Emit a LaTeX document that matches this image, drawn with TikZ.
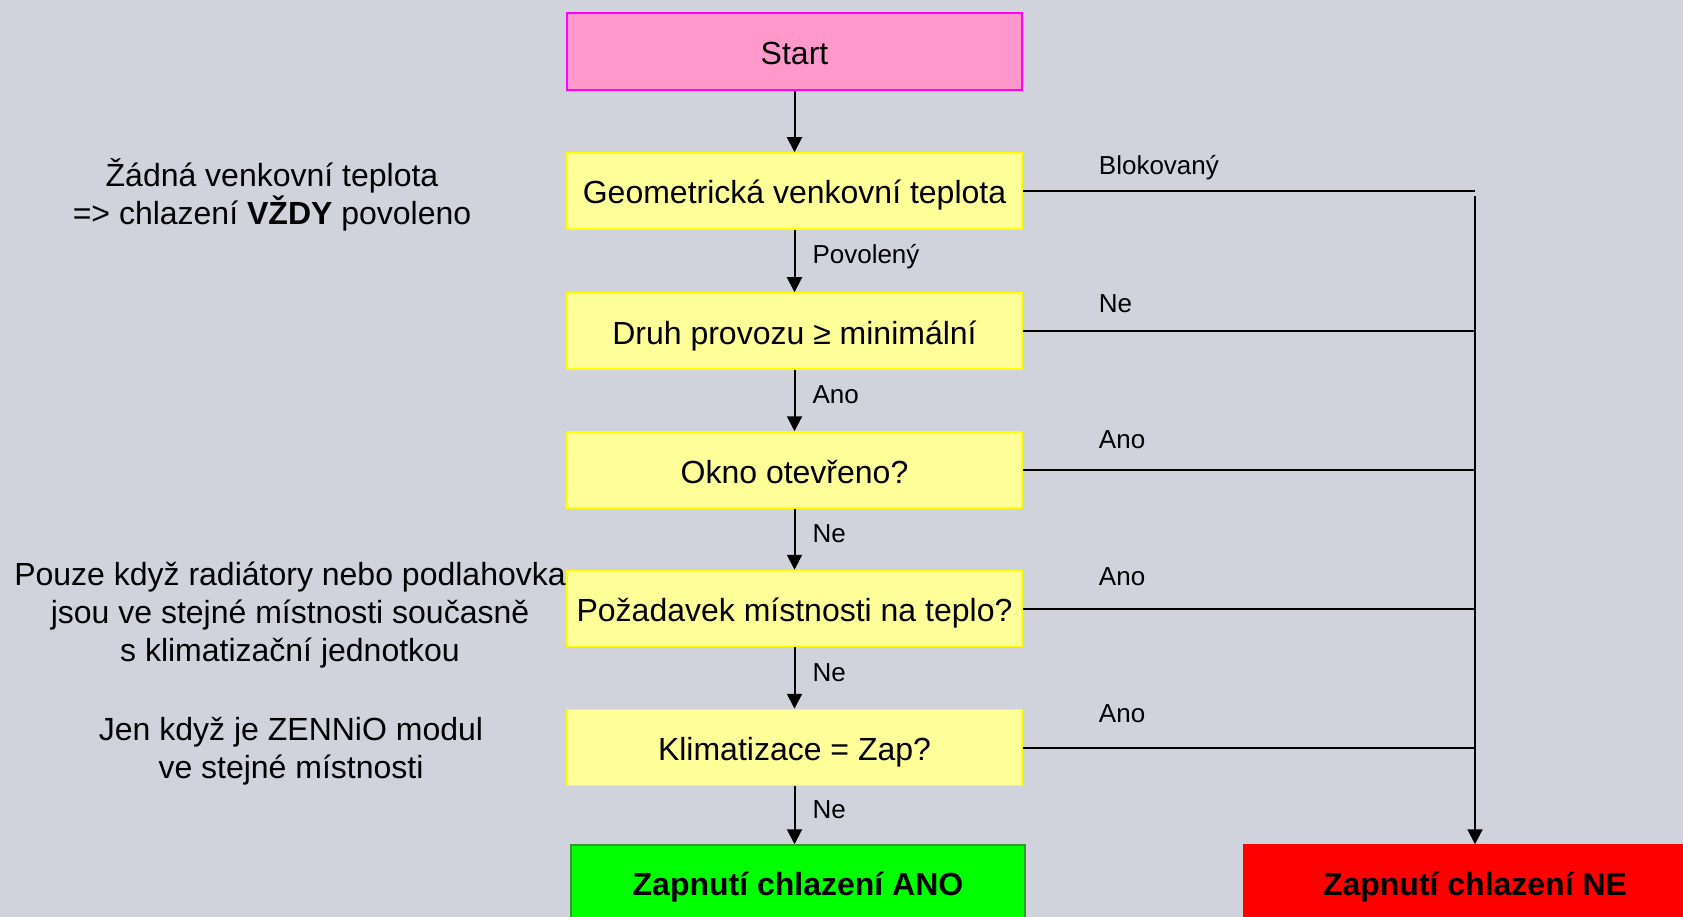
\documentclass[tikz,border=0pt]{standalone}
\usepackage{fontspec}
\setmainfont{Liberation Sans}
\usetikzlibrary{arrows.meta}

\definecolor{bgcol}{RGB}{208,211,220}
\definecolor{pinkfill}{RGB}{255,153,204}
\definecolor{pinkline}{RGB}{255,0,255}
\definecolor{yellowfill}{RGB}{255,255,153}
\definecolor{yellowline}{RGB}{255,255,0}
\definecolor{greenfill}{RGB}{0,255,0}
\definecolor{greenline}{RGB}{51,153,51}
\definecolor{redfill}{RGB}{255,0,0}

\begin{document}
\begin{tikzpicture}[x = 1pt, y = -1pt,
		box/.style = {draw = yellowline, fill = yellowfill, line width = 1.5pt, minimum width = 455pt, minimum height = 76pt, inner sep = 0pt, text height = 26pt, text depth = 0pt, font = \fontsize{32}{38}\selectfont},
		startbox/.style = {box, draw = pinkline, fill = pinkfill, minimum height = 77pt},
		endbox/.style = {box, minimum height = 78pt, text height = 23pt, font = \fontsize{32}{38}\selectfont\bfseries},
		note/.style = {align = center, inner sep = 0pt, font = \fontsize{32}{38}\selectfont},
		lbl/.style = {font = \fontsize{26}{30}\selectfont, inner sep = 0pt},
		arr/.style = {line width = 2pt, -{Triangle[length = 15pt, width = 15pt]}}
	]
	\fill [bgcol] (0,0) rectangle (1683,917);
	\useasboundingbox (0,0) rectangle (1683,917);

	% main column
	\node [startbox] (start) at (794.5,51.5) {Start};
	\node [box] (geo) at (794.5,191) {Geometrická venkovní teplota};
	\node [box] (druh) at (794.5,331) {Druh provozu ≥ minimální};
	\node [box] (okno) at (794.5,470) {Okno otevřeno?};
	\node [box] (pozad) at (794.5,608.5) {Požadavek místnosti na teplo?};
	\node [box] (klima) at (794.5,747.5) {Klimatizace = Zap?};

	\node [endbox, draw = greenline, fill = greenfill, minimum width = 454pt] (ano) at (798,884) {Zapnutí chlazení ANO};
	\node [endbox, draw = redfill, fill = redfill, minimum width = 462pt] (ne) at (1475,884) {Zapnutí chlazení NE};

	% notes on the left
	\node [note] (n1) at (272,194.5) {Žádná venkovní teplota\\=> chlazení \textbf{VŽDY} povoleno};
	\node [note] (n2) at (290,615) {Pouze když radiátory nebo podlahovka\\jsou ve stejné místnosti současně\\s klimatizační jednotkou};
	\node [note] (n3) at (291,751.5) {Jen když je ZENNiO modul\\ve stejné místnosti};

	% downwards
	\begin{scope}[every node/.style = {lbl, anchor = base west, xshift = 17pt, yshift = -3pt}]
		\draw [arr] (start) -- (geo);
		\draw [arr] (geo) -- node {Povolený} (druh);
		\draw [arr] (druh) -- node {Ano} (okno);
		\draw [arr] (okno) -- node {Ne} (pozad);
		\draw [arr] (pozad) -- node {Ne} (klima);
		\draw [arr] (klima) -- node {Ne} (klima.south |- ano.north);
	\end{scope}

	% to the right
	\foreach \n/\t/\h in {geo/Blokovaný/16, druh/Ne/19, okno/Ano/22, pozad/Ano/23, klima/Ano/25}
	{
		\draw [line width = 2pt] (\n.east) -- (\n.east -| ne.north);
		\node [lbl, anchor = base west] (\n-lbl) at ([xshift = 76pt, yshift = \h pt] \n.east) {\t};
	}
	\draw [arr] ([yshift = -5pt] geo.east -| ne.north) -- (ne.north);
\end{tikzpicture}
\end{document}
